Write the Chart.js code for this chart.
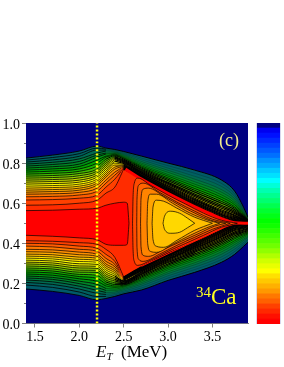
<!DOCTYPE html>
<html>
<head>
<meta charset="utf-8">
<script src="https://cdn.jsdelivr.net/npm/chart.js@4/dist/chart.umd.min.js"></script>
<style>
html,body{margin:0;padding:0;background:#fff;width:284px;height:367px;overflow:hidden}
#wrap{position:relative;width:284px;height:367px;font-family:"Liberation Serif",serif}
#main{position:absolute;left:0;top:0;width:284px;height:367px}
#barBox{position:absolute;left:256px;top:123px;width:25px;height:201px;box-sizing:border-box;border-left:1px solid #d8d8ee;border-right:1px solid #d8d8ee}
#bar{display:block}
.t{position:absolute;white-space:nowrap;line-height:1}
</style>
</head>
<body>
<div id="wrap">
<canvas id="main" width="284" height="367"></canvas>
<div id="barBox"><canvas id="bar" width="23" height="201"></canvas></div>
<div class="t" id="xt" style="left:96px;top:343px;font-size:17px;color:#000"><i>E</i><sub style="font-size:11px;font-style:italic;vertical-align:-3px;line-height:0">T</sub>&nbsp; (MeV)</div>
<div class="t" id="c" style="left:219px;top:131px;font-size:18px;color:#f4ee8c">(c)</div>
<div class="t" id="ca" style="left:196px;top:285px;font-size:23px;color:#ffff1e"><sup style="font-size:15px;vertical-align:7px;line-height:0">34</sup>Ca</div>
</div>
<script>
const xMajorTicks=[1.5,2.0,2.5,3.0,3.5];
const xMinorTicks=[1.75,2.25,2.75,3.25,3.75];
const yMajorTicks=[0,0.2,0.4,0.6,0.8,1.0];
const yMinorTicks=[0.1,0.3,0.5,0.7,0.9];
const dottedX=[2.2,2.2];
const dottedY=[0,1];

const columnX=[1.4,1.7,2.0,2.2,2.3,2.4,2.5,2.7,3.0,3.3,3.6,3.75,3.85,3.9];
const upperColumns=[
[.825,.815,.805,.795,.785,.775,.765,.755,.745,.735,.725,.715,.705,.695,.685,.675,.665,.655,.645,.632,.616,.59],
[.84,.828,.816,.804,.793,.782,.771,.76,.749,.738,.728,.718,.708,.698,.688,.678,.668,.658,.647,.634,.618,.592],
[.86,.847,.834,.821,.808,.795,.783,.771,.759,.748,.737,.726,.715,.705,.695,.685,.675,.665,.654,.641,.625,.6],
[.885,.875,.865,.85,.84,.83,.815,.80,.785,.77,.76,.75,.74,.73,.72,.71,.70,.69,.675,.66,.64,.615],
[.875,.87,.865,.86,.85,.845,.835,.83,.82,.81,.80,.79,.78,.77,.76,.75,.74,.73,.715,.70,.68,.65],
[.868,.864,.86,.856,.852,.848,.844,.84,.836,.832,.828,.824,.818,.81,.80,.79,.78,.77,.755,.74,.72,.68],
[.858,.853,.848,.843,.838,.833,.828,.824,.82,.815,.81,.806,.802,.798,.794,.79,.787,.784,.781,.778,.775,.77],
[.835,.825,.817,.808,.80,.793,.786,.78,.775,.769,.764,.759,.755,.751,.748,.744,.741,.738,.735,.732,.73,.727],
[.80,.787,.775,.764,.754,.743,.735,.726,.719,.712,.704,.699,.693,.687,.683,.678,.674,.67,.666,.662,.659,.655],
[.765,.749,.734,.72,.707,.695,.684,.673,.664,.655,.646,.639,.632,.625,.619,.614,.608,.603,.599,.594,.59,.585],
[.716,.699,.684,.668,.655,.642,.63,.619,.609,.6,.59,.582,.575,.567,.561,.556,.55,.544,.54,.535,.53,.525],
[.66,.646,.634,.622,.611,.601,.592,.582,.575,.567,.56,.554,.548,.541,.537,.532,.528,.523,.519,.516,.512,.508],
[.58,.573,.567,.561,.555,.55,.545,.541,.537,.533,.53,.527,.524,.52,.518,.516,.514,.512,.51,.508,.505,.503],
[.53,.528,.526,.523,.521,.519,.517,.516,.515,.513,.511,.51,.509,.508,.507,.506,.506,.505,.504,.503,.503,.502]
];
const lowerColumns=[
[.172,.192,.205,.217,.227,.237,.247,.257,.267,.277,.287,.297,.306,.316,.326,.336,.346,.358,.37,.386,.40,.413],
[.16,.18,.195,.208,.22,.23,.241,.252,.262,.272,.282,.292,.302,.312,.322,.332,.343,.355,.367,.382,.397,.41],
[.14,.157,.172,.186,.199,.211,.223,.234,.245,.256,.266,.277,.287,.298,.309,.32,.331,.343,.356,.37,.386,.403],
[.118,.135,.15,.165,.18,.195,.21,.225,.24,.255,.265,.275,.285,.295,.305,.315,.325,.335,.345,.36,.375,.395],
[.125,.135,.145,.155,.165,.175,.187,.197,.207,.217,.227,.237,.247,.257,.267,.277,.287,.297,.31,.325,.345,.37],
[.135,.143,.15,.157,.165,.172,.18,.187,.195,.203,.212,.22,.228,.237,.245,.254,.263,.272,.283,.295,.31,.33],
[.148,.155,.162,.169,.175,.181,.186,.191,.195,.199,.203,.207,.21,.213,.216,.219,.221,.223,.226,.228,.23,.232],
[.167,.177,.187,.196,.204,.212,.219,.226,.232,.238,.244,.248,.253,.257,.261,.264,.268,.271,.274,.277,.28,.283],
[.215,.227,.238,.249,.258,.268,.276,.284,.291,.297,.304,.309,.315,.32,.324,.328,.332,.337,.34,.343,.347,.35],
[.255,.269,.281,.293,.303,.314,.323,.332,.34,.347,.355,.361,.367,.373,.377,.382,.386,.391,.395,.398,.402,.406],
[.305,.319,.332,.345,.357,.368,.377,.387,.395,.403,.411,.418,.424,.431,.435,.44,.445,.45,.454,.458,.462,.466],
[.345,.359,.371,.383,.394,.404,.413,.423,.43,.438,.445,.451,.457,.464,.468,.473,.477,.482,.486,.489,.493,.497],
[.385,.395,.404,.414,.421,.429,.436,.443,.449,.455,.46,.465,.469,.474,.477,.481,.484,.487,.49,.493,.496,.499],
[.405,.414,.421,.429,.435,.442,.448,.453,.458,.463,.468,.472,.475,.479,.482,.485,.488,.491,.493,.495,.498,.5]
];
const bandColors=['#005a68','#006060','#006a50','#00783c','#008628','#009414','#00a400','#18b000','#40bc00','#70c800','#98d000','#c0d800','#e8e800','#ffff00','#ffe000','#ffc000','#ffa800','#ff9000','#ff7800','#ff5c00','#ff4000','#ff2c00'];
const leftWidths=[.9,.8,.8,.8,.8,.8,.8,.8,.8,.8,.8,.8,.8,.8,.7,.7,.7,.7,.7,.7,.7,.7];
const rightWidths=[1,.2,.2,.25,.3,.4,.6,.8,1,1.2,1.2,1.2,1.2,1.2,1.2,1.2,1.2,1.2,1.2,1.2,1.2,1.2];
const denseFrom=[2.3,2.3,2.3,2.3,2.3,2.3,2.3,2.3,2.3,2.4,2.4,2.4,2.4,2.4,2.5,2.5,2.5,2.5,2.5,2.5,2.5,2.5];

const valleyX=[1.4,1.7,2.0,2.2,2.3,2.4,2.5,2.54,2.56];
const valleyUpper=[.563,.565,.57,.575,.59,.60,.605,.60,.50];
const valleyLower=[.44,.435,.427,.418,.395,.39,.39,.395,.50];
const valleyColor='#ff0000';

const ridgeUpperX=[2.52,2.7,3.08,3.46,3.75,3.9];
const ridgeUpperY=[.77,.72,.63,.55,.503,.50];
const ridgeLowerX=[2.7,3.02,3.4,3.77,3.9];
const ridgeLowerY=[.285,.352,.43,.497,.50];

const peakUpper=[
[[2.6,.5],[2.605,.62],[2.62,.70],[2.66,.725],[2.8,.69],[3.0,.64],[3.2,.595],[3.4,.55],[3.6,.515],[3.78,.50]],
[[2.647,.5],[2.65,.62],[2.67,.69],[2.72,.70],[2.9,.655],[3.1,.605],[3.3,.56],[3.5,.52],[3.7,.50]],
[[2.69,.5],[2.695,.62],[2.72,.67],[2.78,.675],[2.95,.635],[3.15,.585],[3.35,.54],[3.52,.51],[3.65,.50]],
[[2.763,.5],[2.77,.6],[2.80,.645],[2.87,.645],[3.05,.60],[3.25,.55],[3.45,.515],[3.58,.50]],
[[2.82,.5],[2.83,.58],[2.87,.615],[2.95,.61],[3.1,.575],[3.3,.53],[3.5,.50]],
[[2.943,.5],[2.96,.535],[3.03,.56],[3.13,.55],[3.22,.525],[3.3,.50]]
];
const peakLower=[
[[2.6,.5],[2.605,.38],[2.62,.31],[2.66,.29],[2.8,.315],[3.0,.36],[3.2,.40],[3.4,.44],[3.6,.48],[3.78,.50]],
[[2.647,.5],[2.65,.38],[2.67,.32],[2.72,.31],[2.9,.345],[3.1,.39],[3.3,.43],[3.5,.47],[3.7,.50]],
[[2.69,.5],[2.695,.385],[2.72,.34],[2.78,.335],[2.95,.37],[3.15,.41],[3.35,.45],[3.52,.485],[3.65,.50]],
[[2.763,.5],[2.77,.4],[2.80,.36],[2.87,.355],[3.05,.395],[3.25,.44],[3.45,.48],[3.58,.50]],
[[2.82,.5],[2.83,.42],[2.87,.385],[2.95,.38],[3.1,.415],[3.3,.465],[3.5,.50]],
[[2.943,.5],[2.96,.47],[3.03,.45],[3.13,.455],[3.22,.478],[3.3,.50]]
];
const peakColors=['#ff4a00','#ff6400','#ff8400','#ffa400','#ffc000','#ffd800'];

const colorbarSteps=['#000080','#0000f0','#0010ff','#0028ff','#0040ff','#0058ff','#0070ff','#0090ff','#00a8ff','#00c8ff','#00e0ff','#00ffff','#00ffd8','#00ffb0','#00ff90','#00ff70','#00ff50','#00ff30','#00ff18','#00ff00','#10ff00','#28ff00','#40ff00','#58ff00','#70ff00','#90ff00','#b0ff00','#d0ff00','#e8ff00','#ffff00','#ffe000','#ffc800','#ffb000','#ff9800','#ff7800','#ff6000','#ff4000','#ff2800','#ff1000','#ff0000'];

const LINE=0.7;
const lineBase={showLine:true,pointRadius:0,pointHoverRadius:0,cubicInterpolationMode:'monotone'};
const paint=[];
paint.push({...lineBase,data:[{x:1.4,y:1},{x:3.9,y:1}],borderWidth:0,fill:'start',backgroundColor:'#000080',borderColor:'#000080'});
function fillPair(up,lo,color){
  paint.push({...lineBase,data:lo,borderColor:color,borderWidth:0,fill:'-1',backgroundColor:color});
  paint.push({...lineBase,data:up,borderColor:color,borderWidth:0,fill:false});
}
function stroke(pts,w,color){
  paint.push({...lineBase,data:pts,borderColor:color||'#000',borderWidth:w,fill:false});
}
const levelUp=k=>columnX.map((x,i)=>({x,y:upperColumns[i][k]}));
const levelLo=k=>columnX.map((x,i)=>({x,y:lowerColumns[i][k]}));
bandColors.forEach((c,k)=>{
  const up=levelUp(k),lo=levelLo(k);
  fillPair(up,lo,c);
  stroke(up.filter(p=>p.x<=denseFrom[k]),leftWidths[k]);
  stroke(lo.filter(p=>p.x<=denseFrom[k]),leftWidths[k]);
});
const vUp=valleyX.map((x,i)=>({x,y:valleyUpper[i]})),vLo=valleyX.map((x,i)=>({x,y:valleyLower[i]}));
fillPair(vUp,vLo,valleyColor);stroke(vUp,LINE);stroke(vLo,LINE);
bandColors.forEach((c,k)=>{
  stroke(levelUp(k).filter(p=>p.x>=denseFrom[k]),rightWidths[k]);
  stroke(levelLo(k).filter(p=>p.x>=denseFrom[k]),rightWidths[k]);
});
stroke(ridgeUpperX.map((x,i)=>({x,y:ridgeUpperY[i]})),3,'#ff0000');
stroke(ridgeLowerX.map((x,i)=>({x,y:ridgeLowerY[i]})),1,'#ff1000');
peakColors.forEach((c,k)=>{
  const up=peakUpper[k].map(p=>({x:p[0],y:p[1]})),lo=peakLower[k].map(p=>({x:p[0],y:p[1]}));
  fillPair(up,lo,c);stroke(up,LINE);stroke(lo,LINE);
});
paint.push({...lineBase,data:dottedX.map((x,i)=>({x,y:dottedY[i]})),borderColor:'#ffff00',borderWidth:2.5,borderDash:[2,2],fill:false});

const AXIS='#808080';
const setTicks=list=>(s)=>{s.ticks=list.map(v=>({value:v}));};
new Chart(document.getElementById('main'),{
  type:'scatter',
  data:{datasets:paint.slice().reverse()},
  options:{
    responsive:false,animation:false,events:[],
    layout:{padding:{top:123,right:36,left:0,bottom:0}},
    plugins:{legend:{display:false},tooltip:{enabled:false}},
    scales:{
      x:{type:'linear',min:1.4,max:3.9,afterBuildTicks:setTicks(xMajorTicks),afterFit:s=>{s.height=43.5;},
        grid:{drawOnChartArea:false,tickLength:4,tickColor:AXIS,tickWidth:1},border:{color:AXIS,width:1},
        ticks:{color:'#000',padding:1,maxRotation:0,autoSkip:false,font:{family:'Liberation Serif',size:14},callback:v=>v.toFixed(1)}},
      y:{type:'linear',min:0,max:1,afterBuildTicks:setTicks(yMajorTicks),afterFit:s=>{s.width=26;},
        grid:{drawOnChartArea:false,tickLength:4,tickColor:AXIS,tickWidth:1},border:{color:AXIS,width:1},
        ticks:{color:'#000',padding:2,autoSkip:false,font:{family:'Liberation Serif',size:14,lineHeight:'4px'},callback:v=>['',v.toFixed(1)]}},
      xMinor:{type:'linear',axis:'x',position:{y:0},min:1.4,max:3.9,afterBuildTicks:setTicks(xMinorTicks),
        grid:{drawOnChartArea:false,tickLength:-2,tickColor:AXIS,tickWidth:1},border:{display:false},ticks:{callback:()=>'',autoSkip:false}},
      yMinor:{type:'linear',axis:'y',position:{x:1.4},min:0,max:1,afterBuildTicks:setTicks(yMinorTicks),
        grid:{drawOnChartArea:false,tickLength:2,tickColor:AXIS,tickWidth:1},border:{display:false},ticks:{callback:()=>'',autoSkip:false}}
    }
  }
});
new Chart(document.getElementById('bar'),{
  type:'bar',
  data:{labels:['scale'],datasets:colorbarSteps.slice().reverse().map(c=>({data:[1],backgroundColor:c,borderWidth:0,barPercentage:1,categoryPercentage:1}))},
  options:{responsive:false,animation:false,events:[],
    layout:{padding:0},
    plugins:{legend:{display:false},tooltip:{enabled:false}},
    scales:{x:{stacked:true,display:false},y:{stacked:true,display:false,min:0,max:colorbarSteps.length}}}
});
</script>
</body>
</html>
